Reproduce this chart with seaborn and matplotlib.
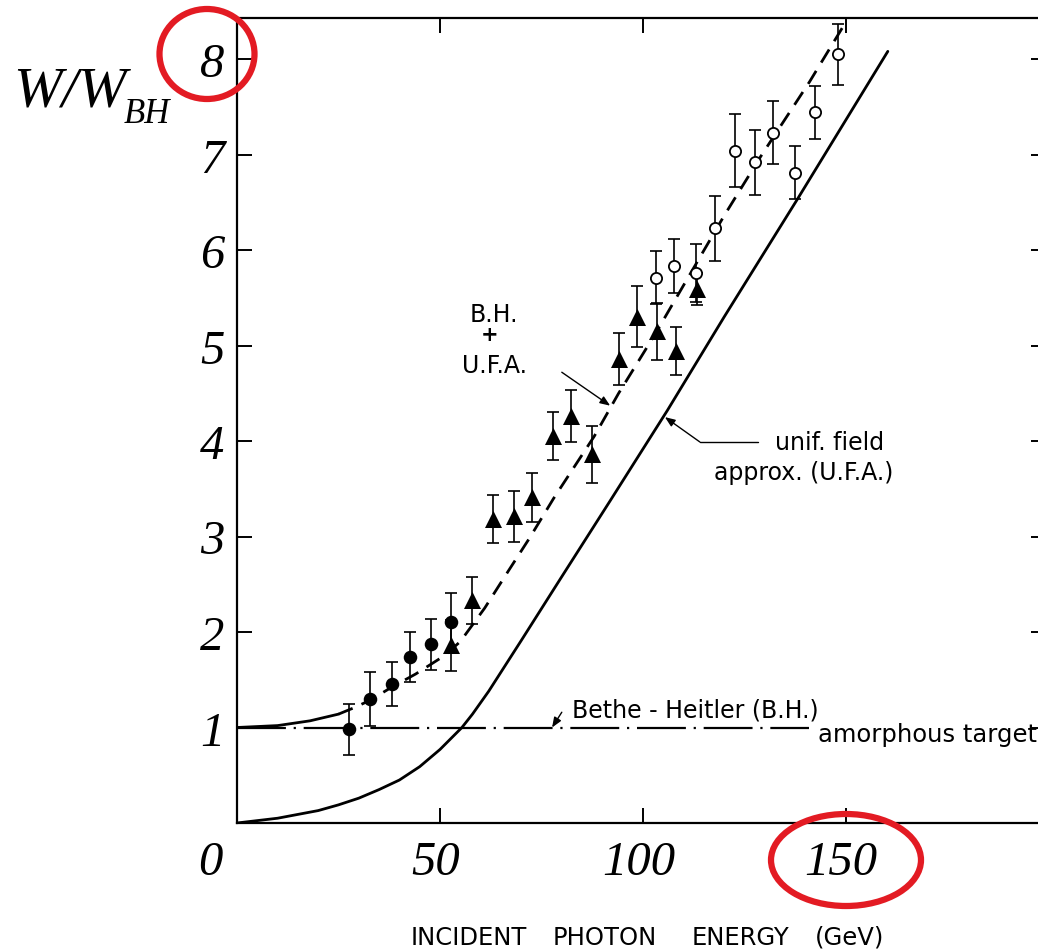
import numpy as np
import pandas as pd
import matplotlib
matplotlib.use("Agg")
import matplotlib.pyplot as plt
from matplotlib.patches import Ellipse
from matplotlib.transforms import ScaledTranslation
import seaborn as sns

# ---------------- data ----------------
# U.F.A. (unif. field approx.) solid curve
ufa_x = [0, 10, 20, 25, 30, 35, 40, 45, 50, 55.4, 58, 62, 70, 80, 92, 106, 120, 138, 160.3]
ufa_y = [0.0, 0.05, 0.13, 0.19, 0.26, 0.35, 0.45, 0.59, 0.77, 1.0, 1.14, 1.38, 1.91, 2.58, 3.38, 4.32, 5.30, 6.53, 8.08]

# B.H. + U.F.A. curve (solid start, then dashed)
bhufa_solid_x = [0, 10, 18, 25]
bhufa_solid_y = [1.0, 1.02, 1.07, 1.14]
bhufa_dash_x = [25, 29, 33, 38, 44, 51, 55, 61, 67, 72, 78, 88, 94, 103, 113, 120, 129, 141, 150]
bhufa_dash_y = [1.14, 1.21, 1.29, 1.42, 1.56, 1.75, 1.90, 2.25, 2.65, 2.98, 3.40, 4.05, 4.50, 5.12, 5.85, 6.36, 6.98, 7.76, 8.39]

# Bethe-Heitler amorphous target level
bh_x = [0, 141]
bh_y = [1.0, 1.0]

# measured points
fc_x = [27.5, 32.8, 38.1, 42.6, 47.8, 52.7]
fc_y = [0.98, 1.30, 1.46, 1.74, 1.87, 2.10]
fc_err = [0.27, 0.28, 0.23, 0.26, 0.27, 0.31]

tri_x = [52.7, 57.9, 63.1, 68.2, 72.7, 77.8, 82.3, 87.4, 94.1, 98.5, 103.4, 108.1, 113.3]
tri_y = [1.86, 2.33, 3.18, 3.21, 3.41, 4.05, 4.26, 3.86, 4.86, 5.30, 5.15, 4.94, 5.59]
tri_err = [0.27, 0.25, 0.25, 0.27, 0.26, 0.25, 0.27, 0.30, 0.27, 0.32, 0.30, 0.25, 0.17]

open_x = [103.2, 107.6, 113.1, 117.7, 122.7, 127.6, 132.1, 137.4, 142.4, 148.0]
open_y = [5.71, 5.83, 5.76, 6.23, 7.04, 6.92, 7.23, 6.81, 7.44, 8.05]
open_err = [0.28, 0.28, 0.30, 0.34, 0.38, 0.34, 0.33, 0.28, 0.28, 0.32]

x_ticks = [0, 50, 100, 150]
x_tick_labels = ["0", "50", "100", "150"]
y_ticks = [1, 2, 3, 4, 5, 6, 7, 8]
y_tick_labels = ["1", "2", "3", "4", "5", "6", "7", "8"]
x_title_words = ["INCIDENT", "PHOTON", "ENERGY", "(GeV)"]

# ---------------- figure ----------------
sns.set_theme(style="white")
plt.rcParams["font.family"] = ["DejaVu Sans"]

W, H = 1038, 953
fig = plt.figure(figsize=(W / 100, H / 100), dpi=100)
ax = fig.add_axes([237 / W, 1 - 824 / H, (1046 - 237) / W, (824 - 19) / H])
ax.set_xlim(0, (1046 - 237) / 4.06)
ax.set_ylim(0, (824 - 19) / 95.5)

for s in ax.spines.values():
    s.set_color("black")
    s.set_linewidth(1.6)

k = "black"
sns.lineplot(x=ufa_x, y=ufa_y, ax=ax, color=k, lw=2.0, estimator=None, sort=False)
sns.lineplot(x=bhufa_solid_x, y=bhufa_solid_y, ax=ax, color=k, lw=2.0, estimator=None, sort=False)
sns.lineplot(x=bhufa_dash_x, y=bhufa_dash_y, ax=ax, color=k, lw=2.0, estimator=None, sort=False,
             linestyle=(0, (5.5, 3.5)))
sns.lineplot(x=bh_x, y=bh_y, ax=ax, color=k, lw=1.6, estimator=None, sort=False,
             linestyle=(0, (22, 3.5, 1, 3.5)))

eb = dict(fmt="none", ecolor=k, elinewidth=1.2, capsize=4, capthick=1.2, zorder=3)
ax.errorbar(fc_x, fc_y, yerr=fc_err, **eb)
ax.errorbar(tri_x, tri_y, yerr=tri_err, **eb)
ax.errorbar(open_x, open_y, yerr=open_err, **eb)
sns.scatterplot(x=fc_x, y=fc_y, ax=ax, marker="o", s=95, color=k, edgecolor=k, linewidth=0, zorder=4)
sns.scatterplot(x=tri_x, y=tri_y, ax=ax, marker="^", s=150, color=k, edgecolor=k, linewidth=0, zorder=4)
sns.scatterplot(x=open_x, y=open_y, ax=ax, marker="o", s=65, color="white", edgecolor=k, linewidth=1.3, zorder=4)

# ticks
ax.set_xticks(x_ticks)
ax.set_xticklabels(x_tick_labels)
ax.set_yticks(y_ticks)
ax.set_yticklabels(y_tick_labels)
ax.tick_params(axis="both", direction="in", length=11, width=1.4, colors=k,
               top=True, right=True, bottom=True, left=True)
ax.tick_params(axis="x", pad=12)
ax.tick_params(axis="y", pad=9)
for lab in ax.get_xticklabels() + ax.get_yticklabels():
    lab.set_fontfamily(["Liberation Serif", "DejaVu Serif"])
    lab.set_fontstyle("italic")
    lab.set_fontsize(35)
    lab.set_color(k)
offs = [-27, -4, -4, -5]
for lab, o in zip(ax.get_xticklabels(), offs):
    lab.set_transform(lab.get_transform() + ScaledTranslation(o / 100, 0, fig.dpi_scale_trans))

ax.set_xlabel("")
ax.set_ylabel("")

# axis titles
fig.text(13 / W, 1 - 107 / H, "W/W", family=["Liberation Serif"], style="italic", size=42,
         ha="left", va="baseline", color=k)
fig.text(124 / W, 1 - 123 / H, "BH", family=["Liberation Serif"], style="italic", size=25,
         ha="left", va="baseline", color=k)
for word, left in zip(x_title_words, [411, 553, 692, 815]):
    fig.text(left / W, 1 - 945 / H, word, size=17.5, ha="left", va="baseline", color=k)

# annotations
tk = dict(size=17, color=k, ha="left", va="baseline")
ax.text(82.5, 1.12, "Bethe - Heitler (B.H.)", **tk)
ax.text(143.1, 0.86, "amorphous target", size=17.5, color=k, ha="left", va="baseline")
ax.text(132.5, 3.92, "unif. field", **tk)
ax.text(117.5, 3.60, "approx. (U.F.A.)", **tk)
ax.text(57.4, 5.26, "B.H.", **tk)
ax.text(62.3, 5.12, "+", size=15, color=k, ha="center", va="center", fontweight="bold")
ax.text(55.4, 4.72, "U.F.A.", **tk)

ap = dict(arrowstyle="-|>,head_length=0.5,head_width=0.2", color=k, lw=1.0, shrinkA=0, shrinkB=0)
ax.annotate("", xy=(91.9, 4.37), xytext=(80.0, 4.72), arrowprops=ap)
ax.annotate("", xy=(77.6, 1.0), xytext=(80.0, 1.16), arrowprops=ap)
ax.plot([128.3, 114.0], [3.99, 3.99], color=k, lw=1.0)
ax.annotate("", xy=(105.4, 4.25), xytext=(114.0, 3.99), arrowprops=ap)

# red hand-drawn circles
red = "#e31b23"
fig.add_artist(Ellipse((207 / W, 1 - 55 / H), 95 / W, 90 / H, transform=fig.transFigure,
                       fill=False, edgecolor=red, lw=4.5))
fig.add_artist(Ellipse((846 / W, 1 - 861 / H), 150 / W, 92 / H, transform=fig.transFigure,
                       fill=False, edgecolor=red, lw=4.5))

fig.savefig("out.png", dpi=100, facecolor="white")
